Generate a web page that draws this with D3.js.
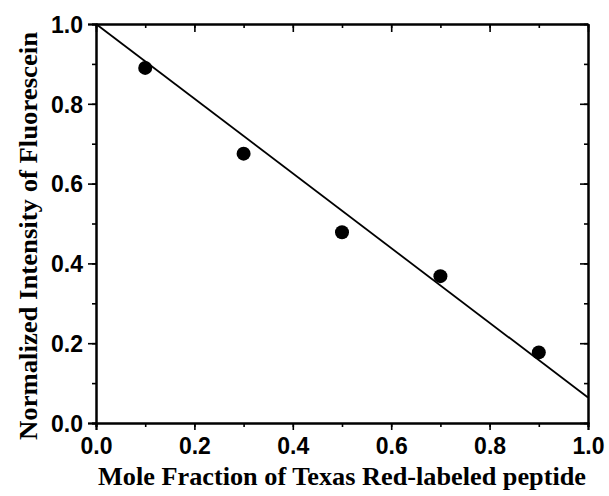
<!DOCTYPE html>
<html><head><meta charset="utf-8">
<script src="https://cdn.jsdelivr.net/npm/d3@7"></script>
<style>body{margin:0;background:#fff}</style>
</head><body>
<svg id="c" width="609" height="496"></svg>
<script>
const xValues = [0.1, 0.3, 0.5, 0.7, 0.9];
const yValues = [0.89, 0.675, 0.478, 0.368, 0.177];
const fitX = [0.0, 1.0];
const fitY = [1.0, 0.064];
const xTicks = [0.0, 0.2, 0.4, 0.6, 0.8, 1.0];
const yTicks = [0.0, 0.2, 0.4, 0.6, 0.8, 1.0];
const xTitle = "Mole Fraction of Texas Red-labeled peptide";
const yTitle = "Normalized Intensity of Fluorescein";

const svg = d3.select("#c");
const L = 96, R = 588, T = 24, B = 423;
const x = d3.scaleLinear().domain([0, 1]).range([L, R]);
const y = d3.scaleLinear().domain([0, 1]).range([B, T]);
const minor = d3.range(0, 1.0001, 0.1);
const fmt = d3.format(".1f");

function styleAxis(g) {
  g.selectAll("path").attr("stroke", "#000").attr("stroke-width", 2);
  g.selectAll("line").attr("stroke", "#000").attr("stroke-width", 1.6);
  g.selectAll("text").attr("font-family", "Liberation Sans, Arial, sans-serif")
    .attr("font-weight", "bold").attr("font-size", 23).attr("fill", "#000");
}

const gb = svg.append("g").attr("transform", `translate(0,${B})`);
gb.call(d3.axisBottom(x).tickValues(minor).tickSize(4).tickFormat("")).call(styleAxis);
gb.append("g").call(d3.axisBottom(x).tickValues(xTicks).tickSize(7).tickPadding(8).tickFormat(fmt)).call(styleAxis);
const gl = svg.append("g").attr("transform", `translate(${L},0)`);
gl.call(d3.axisLeft(y).tickValues(minor).tickSize(4).tickFormat("")).call(styleAxis);
gl.append("g").call(d3.axisLeft(y).tickValues(yTicks).tickSize(8).tickPadding(5).tickFormat(fmt)).call(styleAxis);
gl.selectAll("text").attr("dy", "0.36em");
const gt = svg.append("g").attr("transform", `translate(0,${T})`);
gt.call(d3.axisBottom(x).tickValues(minor).tickSizeInner(4).tickSizeOuter(0).tickFormat("")).call(styleAxis);
gt.append("g").call(d3.axisBottom(x).tickValues(xTicks).tickSizeInner(8).tickSizeOuter(0).tickFormat("")).call(styleAxis);
const gr = svg.append("g").attr("transform", `translate(${R},0)`);
gr.call(d3.axisLeft(y).tickValues(minor).tickSizeInner(4).tickSizeOuter(0).tickFormat("")).call(styleAxis);
gr.append("g").call(d3.axisLeft(y).tickValues(yTicks).tickSizeInner(8).tickSizeOuter(0).tickFormat("")).call(styleAxis);

const line = d3.line().x(d => x(d[0])).y(d => y(d[1]));
svg.append("path").datum(fitX.map((v, i) => [v, fitY[i]]))
  .attr("d", line).attr("fill", "none").attr("stroke", "#000").attr("stroke-width", 1.8);

svg.append("g").selectAll("circle").data(xValues.map((v, i) => [v, yValues[i]]))
  .join("circle").attr("cx", d => x(d[0])).attr("cy", d => y(d[1])).attr("r", 7).attr("fill", "#000");

svg.append("text").attr("x", 342).attr("y", 485).attr("text-anchor", "middle")
  .attr("font-family", "Liberation Serif, Times New Roman, serif").attr("font-weight", "bold")
  .attr("font-size", 26).attr("textLength", 488).attr("lengthAdjust", "spacingAndGlyphs").text(xTitle);
svg.append("text").attr("transform", `translate(37,236) rotate(-90)`).attr("text-anchor", "middle")
  .attr("font-family", "Liberation Serif, Times New Roman, serif").attr("font-weight", "bold")
  .attr("font-size", 26).attr("textLength", 408).attr("lengthAdjust", "spacingAndGlyphs").text(yTitle);
</script>
</body></html>
